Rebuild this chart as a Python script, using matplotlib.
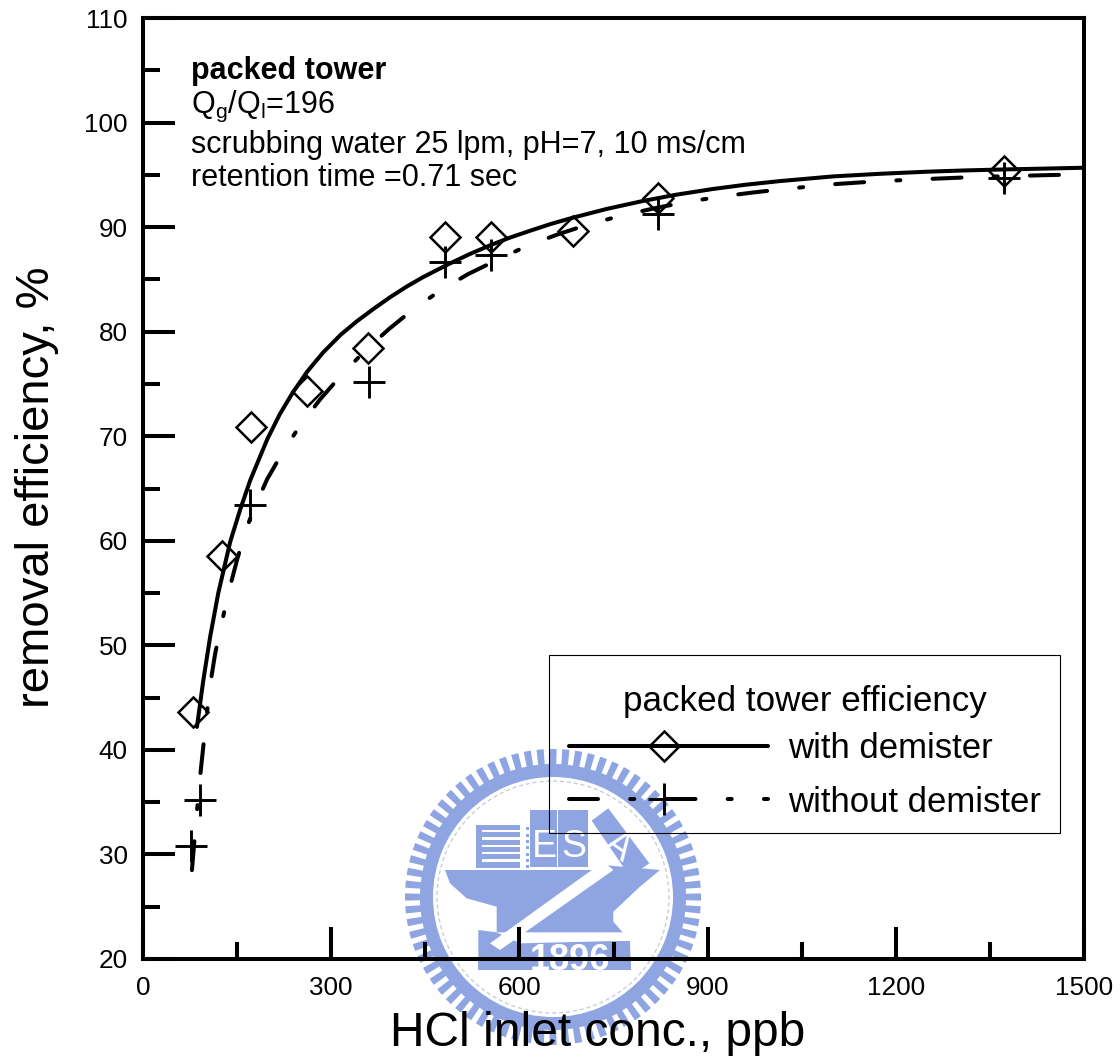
import matplotlib
matplotlib.use("Agg")
import matplotlib.pyplot as plt
import numpy as np
from matplotlib.patches import Polygon, Rectangle, Circle, Wedge

plt.rcParams['font.family'] = ['Liberation Sans', 'DejaVu Sans']

# measured points
diamond_x = [80, 126, 172, 261, 359, 481, 555, 685, 821, 1372]
diamond_y = [43.6, 58.5, 70.9, 74.3, 78.4, 89.1, 89.1, 89.6, 92.8, 95.4]
plus_x = [77, 91, 171, 360, 481, 555, 821, 1372]
plus_y = [30.8, 35.2, 63.4, 75.2, 86.7, 87.3, 91.3, 94.7]

# fitted curves
solid_x = [86, 96, 107, 120, 139, 155, 171, 198, 218, 239, 262, 287, 315, 341, 368, 394, 420, 446, 485, 520,
           553, 585, 617, 650, 685, 740, 797, 850, 909, 960, 1015, 1100, 1175, 1250, 1310, 1375, 1440, 1500]
solid_y = [42.2, 46.6, 50.8, 55, 59.9, 63, 65.8, 69.7, 72.1, 74.2, 76.2, 78, 79.7, 81, 82.2, 83.3, 84.3, 85.2,
           86.4, 87.4, 88.25, 89, 89.65, 90.3, 90.9, 91.75, 92.5, 93.1, 93.65, 94.05, 94.4, 94.85, 95.1, 95.3,
           95.42, 95.52, 95.6, 95.68]
dash_x = [78, 85, 92, 100, 107, 115, 123, 131, 140, 150, 160, 174, 198, 222, 249, 282, 314, 351, 391, 430, 473,
          518, 566, 612, 661, 712, 763, 819, 867, 918, 971, 1015, 1100, 1175, 1250, 1310, 1375, 1440, 1500]
dash_y = [28.5, 33.5, 38, 42.5, 46.2, 49.2, 51.5, 53.6, 55.9, 58.2, 60.2, 62.7, 65.9, 68.4, 70.9, 73.5, 75.7,
          78, 80.2, 82.1, 83.9, 85.5, 86.9, 88.2, 89.3, 90.3, 91.1, 91.85, 92.4, 92.9, 93.3, 93.6, 94.1, 94.4,
          94.6, 94.75, 94.87, 94.97, 95.05]

W, H = 1120, 1061
LOGO = '#8fa5e2'
LW = 2.9
DASH = (0, (7.2, 8, 1, 8))


def draw_logo(fig):
    # background seal, drawn in zoomed pixel coords
    a = fig.add_axes([0, 0, 1, 1], zorder=0)
    a.set_xlim(0, W)
    a.set_ylim(H, 0)
    a.axis('off')
    cx, cy = 553, 897

    def pts(p):
        return [(x / 3 + 400, y / 3 + 730) for x, y in p]

    def poly(p, c=LOGO):
        a.add_patch(Polygon(pts(p), closed=True, fc=c, ec='none'))

    # teeth and ring
    for t in np.arange(0, 360, 5.0):
        a.add_patch(Wedge((cx, cy), 148, t - 1.4, t + 1.4, width=18, fc=LOGO, ec='none'))
    a.add_patch(Wedge((cx, cy), 133, 0, 360, width=13, fc=LOGO, ec='none'))
    a.add_patch(Circle((cx, cy), 116, fc='none', ec='#c8cfdc', lw=1, ls=(0, (3, 2))))

    # striped building
    poly([(228, 285), (360, 285), (360, 415), (228, 415)])
    for yy in np.arange(300, 410, 22):
        poly([(246, yy), (360, yy), (360, yy + 7), (246, yy + 7)], 'white')
    for yy in np.arange(292, 410, 19):
        poly([(378, yy), (388, yy), (388, yy + 9), (378, yy + 9)])
    # E, S, A blocks
    poly([(390, 240), (470, 240), (470, 410), (390, 410)])
    poly([(475, 240), (565, 240), (565, 410), (475, 410)])
    poly([(575, 272), (625, 235), (748, 400), (690, 440)])
    # anvil
    poly([(135, 420), (610, 420), (610, 405), (780, 420), (720, 470), (640, 545), (640, 575),
          (668, 607), (290, 607), (290, 530), (200, 505), (150, 460)])
    # base
    poly([(235, 600), (290, 607), (360, 640), (690, 632), (692, 720), (235, 720)])
    # white arrow
    poly([(270, 640), (610, 395), (640, 420), (300, 660)], 'white')
    poly([(380, 618), (690, 618), (690, 632), (380, 632)], 'white')
    for s, x, y, r in [('E', 432, 350, 0), ('S', 520, 350, 0), ('A', 655, 350, -35)]:
        xp, yp = pts([(x, y)])[0]
        a.text(xp, yp, s, color='white', fontsize=27, ha='center', va='center', rotation=r)
    xp, yp = pts([(510, 690)])[0]
    a.text(xp, yp, '1896', color='white', fontsize=26, fontweight='bold', ha='center', va='center')
    # strip under the axis hides the lower half of the year
    poly([(235, 685), (692, 685), (692, 720), (235, 720)])


fig = plt.figure(figsize=(W / 100, H / 100), dpi=100, facecolor='white')
draw_logo(fig)

ax = fig.add_axes([143 / W, 1 - 959 / H, 941 / W, 941 / H], zorder=1)
ax.patch.set_alpha(0)
ax.set_xlim(0, 1500)
ax.set_ylim(20, 110)

ax.plot(solid_x, solid_y, color='k', lw=LW, solid_capstyle='round', zorder=3)
ax.plot(dash_x, dash_y, color='k', lw=LW, ls=DASH, dash_capstyle='round', zorder=3)
ax.plot(diamond_x, diamond_y, ls='none', marker='D', ms=15, mfc='none', mec='k', mew=1.8, zorder=4)
ax.plot(plus_x, plus_y, ls='none', marker='+', ms=23, mec='k', mew=2.1, zorder=4)

for s in ax.spines.values():
    s.set_linewidth(2.9)
ax.set_xticks(np.arange(0, 1501, 300))
ax.set_xticks(np.arange(150, 1500, 300), minor=True)
ax.set_yticks(np.arange(20, 111, 10))
ax.set_yticks(np.arange(25, 110, 10), minor=True)
ax.tick_params(which='major', direction='in', length=23, width=2.9, labelsize=18.8)
ax.tick_params(which='minor', direction='in', length=12, width=2.9)
ax.tick_params(axis='y', which='major', pad=11)
ax.tick_params(axis='x', which='major', pad=12)

fig.text(390 / W, 1 - 1034 / H, 'HCl inlet conc., ppb', fontsize=34.5, va='center', ha='left')
fig.text(37 / W, 1 - 487 / H, 'removal efficiency, %', fontsize=34, rotation=90, va='center', ha='center')

note = {'fontsize': 22, 'va': 'center', 'ha': 'left'}
fig.text(191 / W, 1 - 71 / H, 'packed tower', fontweight='bold', **note)
fig.text(191 / W, 1 - 106 / H, r'Q$_{\mathregular{g}}$/Q$_{\mathregular{l}}$=196', **note)
fig.text(191 / W, 1 - 145 / H, 'scrubbing water 25 lpm, pH=7, 10 ms/cm', **note)
fig.text(191 / W, 1 - 178 / H, 'retention time =0.71 sec', **note)

# legend box
ax.add_patch(Rectangle((549 / W, 1 - 833 / H), 511 / W, 178 / H, transform=fig.transFigure,
                       fill=False, ec='k', lw=0.8, zorder=5))
fig.text(805 / W, 1 - 702 / H, 'packed tower efficiency', fontsize=25.2, ha='center', va='center')
fig.text(788 / W, 1 - 749 / H, 'with demister', fontsize=25, ha='left', va='center')
fig.text(788 / W, 1 - 803 / H, 'without demister', fontsize=25, ha='left', va='center')
key_x = np.array([569, 768]) / W
ax.plot(key_x, [1 - 746 / H] * 2, transform=fig.transFigure, color='k', lw=LW, solid_capstyle='round', zorder=5)
ax.plot([664 / W], [1 - 746 / H], transform=fig.transFigure, marker='D', ms=15, mfc='none', mec='k', mew=1.8, zorder=6)
ax.plot(key_x, [1 - 799 / H] * 2, transform=fig.transFigure, color='k', lw=LW, ls=DASH, dash_capstyle='round', zorder=5)
ax.plot([664 / W], [1 - 799 / H], transform=fig.transFigure, marker='+', ms=23, mec='k', mew=2.1, zorder=6)

fig.savefig('out.png', dpi=100)
